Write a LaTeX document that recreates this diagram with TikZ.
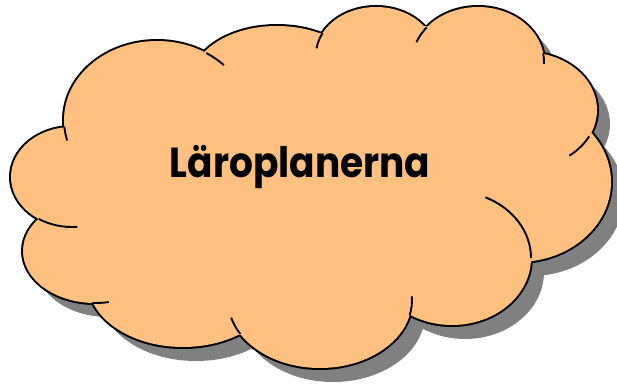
\documentclass[tikz,border=0pt]{standalone}
\usepackage{fontspec}
\setmainfont{Poppins}
\usepackage{tikz}
\usetikzlibrary{positioning}
\definecolor{cloudorange}{RGB}{255, 192, 128}
\definecolor{cloudshadow}{RGB}{128, 128, 128}
% lobes of the cloud: centre x / centre y / x radius / y radius
\newcommand{\cloudlobes}{157/120/93/79, 277/80/85/54, 376/55/60/48, 478/62/66/55, 525/110/72/58, 518/182/93/80, 452/258/79/67, 320/300/92/68, 183/282/95/65, 95/251/72/52, 72/177/61/50}

\begin{document}
\begin{tikzpicture}[x=1pt, y=-1pt]
        \useasboundingbox (0,0) rectangle (617,383);
        % Shadow, shifted down and right
        \begin{scope}[shift={(13,14)}]
            \fill[cloudshadow] (65,127) -- (207,52) -- (322,33) -- (425,26) -- (543,53) -- (592,137) -- (532,258) -- (408,315) -- (238,335) -- (92,302) -- (38,220) -- cycle;
            \foreach \cx/\cy/\rx/\ry in \cloudlobes
                \fill[cloudshadow] (\cx,\cy) ellipse [x radius=\rx, y radius=\ry];
        \end{scope}
        
        % Outline: thick rims, then the fill hides their inner half
        \foreach \cx/\cy/\rx/\ry in \cloudlobes
            \draw[line width=4pt] (\cx,\cy) ellipse [x radius=\rx, y radius=\ry];
        \fill[cloudorange] (65,127) -- (207,52) -- (322,33) -- (425,26) -- (543,53) -- (592,137) -- (532,258) -- (408,315) -- (238,335) -- (92,302) -- (38,220) -- cycle;
        \foreach \cx/\cy/\rx/\ry in \cloudlobes
            \fill[cloudorange] (\cx,\cy) ellipse [x radius=\rx, y radius=\ry];
        
        % Short inner arcs where the lobes meet
        \tikzset{lobestub/.style={line width=1.9pt}}
        \draw[lobestub] (157,120) ++(175:93 and 79) arc[start angle=175, end angle=165, x radius=93, y radius=79];
        \draw[lobestub] (157,120) ++(-58:93 and 79) arc[start angle=-58, end angle=-44, x radius=93, y radius=79];
        \draw[lobestub] (376,55) ++(207:60 and 48) arc[start angle=207, end angle=188, x radius=60, y radius=48];
        \draw[lobestub] (478,62) ++(219:66 and 55) arc[start angle=219, end angle=201, x radius=66, y radius=55];
        \draw[lobestub] (478,62) ++(-9:66 and 55) arc[start angle=-9, end angle=2, x radius=66, y radius=55];
        \draw[lobestub] (525,110) ++(27:72 and 58) arc[start angle=27, end angle=52, x radius=72, y radius=58];
        \draw[lobestub] (452,258) ++(0:79 and 67) arc[start angle=0, end angle=-65, x radius=79, y radius=67];
        \draw[lobestub] (320,300) ++(13:92 and 68) arc[start angle=13, end angle=-3, x radius=92, y radius=68];
        \draw[lobestub] (320,300) ++(150:92 and 68) arc[start angle=150, end angle=165, x radius=92, y radius=68];
        \draw[lobestub] (95,251) ++(92:72 and 52) arc[start angle=92, end angle=79, x radius=72, y radius=52];
        \draw[lobestub] (72,177) ++(123:61 and 50) arc[start angle=123, end angle=85, x radius=61, y radius=50];
        
        % Title
        \node[anchor=base, font=\bfseries\fontsize{37.5}{40}\selectfont] (title) at (300,177) {\scalebox{1}[1.12]{Läroplanerna}};
    \end{tikzpicture}
\end{document}
